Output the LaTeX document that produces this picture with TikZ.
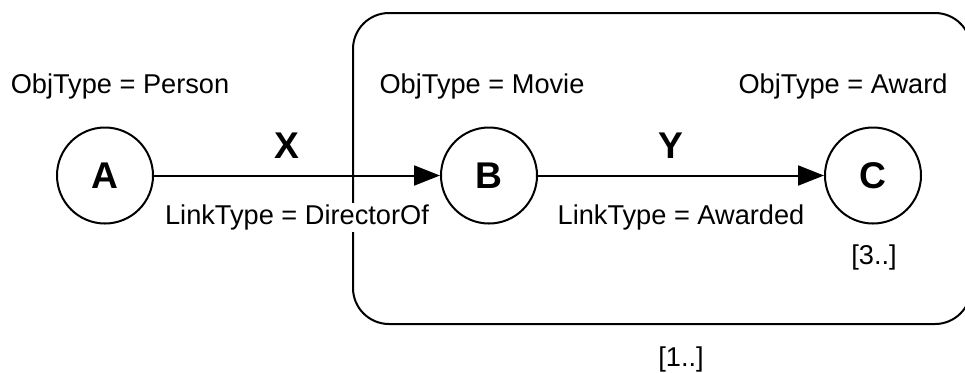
\documentclass[tikz,border=0pt]{standalone}
\usepackage{fontspec}
\setmainfont{Liberation Sans}
\usetikzlibrary{arrows.meta}
\begin{document}
\begin{tikzpicture}[x=0.5pt,y=-0.5pt,line width=1pt,
	obj/.style={circle,draw,minimum size=48pt,inner sep=0pt,font=\fontsize{18.6}{22}\selectfont\bfseries},
	var/.style={inner sep=0pt,font=\fontsize{18.6}{22}\selectfont\bfseries},
	txt/.style={inner sep=1pt,font=\fontsize{13.6}{16}\selectfont},
	link/.style={-{Triangle[length=13pt,width=10pt]}}]
	\clip (0,0) rectangle (965,372);

	% the pattern group around B and C
	\draw [rounded corners=18pt] (353,13) rectangle (971,324);

	\node [obj](A) at (105,175.5) {A};
	\node [obj](B) at (489,175.5) {B};
	\node [obj](C) at (873,175.5) {C};

	\node [txt,anchor=base](tA) at (120,93) {ObjType = Person};
	\node [txt,anchor=base](tB) at (482,93) {ObjType = Movie};
	\node [txt,anchor=base](tC) at (843,93) {ObjType = Award};

	\draw [link] (A) -- (B)
		node [var,pos=0.465,above=8pt] (X) {X}
		node [txt,fill=white,midway,anchor=base,yshift=-24.5pt] (lX) {LinkType = DirectorOf};
	\draw [link] (B) -- (C)
		node [var,pos=0.465,above=8pt] (Y) {Y}
		node [txt,midway,anchor=base,yshift=-24.5pt] (lY) {LinkType = Awarded};

	\node [txt,anchor=base](nC) at (874,264) {[3..]};
	\node [txt,anchor=base](nG) at (681,366) {[1..]};
\end{tikzpicture}
\end{document}
